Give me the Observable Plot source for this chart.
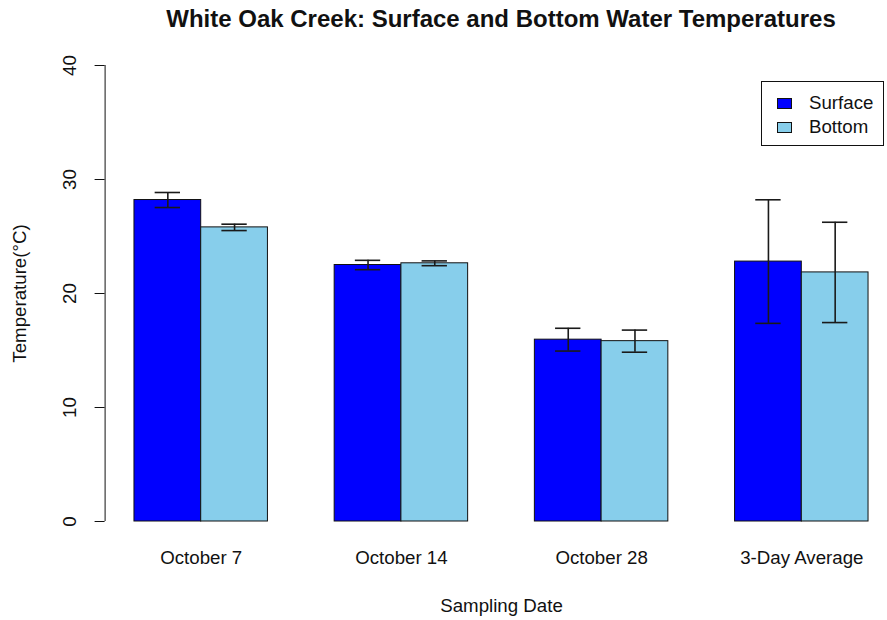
<!DOCTYPE html>
<html>
<head>
<meta charset="utf-8">
<script src="https://cdn.jsdelivr.net/npm/d3@7"></script>
<script src="https://cdn.jsdelivr.net/npm/@observablehq/plot@0.6"></script>
<style>
  body { margin: 0; background: #fff; }
  #wrap { position: relative; width: 887px; height: 620px; font-family: "Liberation Sans", Arial, sans-serif; color: #111; }
  #title { height: 38px; line-height: 38px; font-weight: bold; font-size: 24px; text-align: center; width: 792px; margin-left: 105px; white-space: nowrap; }
  #legend { position: absolute; left: 761px; top: 81px; width: 123px; height: 65px; border: 1px solid #111; background: #fff; box-sizing: border-box; font-size: 18.7px; }
  .row { position: absolute; left: 15px; display: flex; align-items: center; }
  .sw { width: 15px; height: 11px; border: 1px solid #111; box-sizing: border-box; margin-right: 17px; }
</style>
</head>
<body>
<div id="wrap">
  <div id="title">White Oak Creek: Surface and Bottom Water Temperatures</div>
  <div id="chart"></div>
  <div id="legend"></div>
</div>
<script>
// Sampling dates and the two measurement depths
const dates = ["October 7", "October 14", "October 28", "3-Day Average"];
const seriesNames = ["Surface", "Bottom"];
const seriesColors = ["#0000FF", "#87CEEB"];

// Mean temperature (°C) and standard deviation per date
const surfaceMean = [28.2, 22.5, 15.95, 22.8];
const surfaceSD = [0.66, 0.41, 1.0, 5.42];
const bottomMean = [25.8, 22.65, 15.82, 21.85];
const bottomSD = [0.28, 0.21, 0.97, 4.4];

const yTicks = [0, 10, 20, 30, 40];

// Barplot layout: each group is two bar widths, separated by one bar width
const rows = dates.flatMap((date, i) => seriesNames.map((series, j) => ({
  date,
  series,
  slot: 3 * i + j + 1,
  mean: j === 0 ? surfaceMean[i] : bottomMean[i],
  sd: j === 0 ? surfaceSD[i] : bottomSD[i]
})));

const xMin = 0.56, xMax = 12.44;
const capHalf = 0.19;
const fs = 18.7;

const chart = Plot.plot({
  width: 887,
  height: 582,
  marginLeft: 104.6,
  marginTop: 27,
  marginBottom: 99,
  marginRight: 0,
  style: { fontFamily: "Liberation Sans, Arial, sans-serif", color: "#111", background: "#fff", overflow: "visible" },
  x: { domain: [xMin, xMax], range: [104.6, 897.4], axis: null },
  y: { domain: [0, 40], range: [483, 27], axis: null },
  color: { domain: seriesNames, range: seriesColors },
  marks: [
    Plot.rectY(rows, { x1: "slot", x2: d => d.slot + 1, y1: 0, y2: "mean", fill: "series", stroke: "#111", strokeWidth: 1 }),
    // error bars
    Plot.ruleX(rows, { x: d => d.slot + 0.5, y1: d => d.mean - d.sd, y2: d => d.mean + d.sd, stroke: "#1a1a1a", strokeWidth: 1.6 }),
    Plot.ruleY(rows, { y: d => d.mean + d.sd, x1: d => d.slot + 0.5 - capHalf, x2: d => d.slot + 0.5 + capHalf, stroke: "#1a1a1a", strokeWidth: 1.6 }),
    Plot.ruleY(rows, { y: d => d.mean - d.sd, x1: d => d.slot + 0.5 - capHalf, x2: d => d.slot + 0.5 + capHalf, stroke: "#1a1a1a", strokeWidth: 1.6 }),
    // y axis
    Plot.ruleX([xMin], { y1: 0, y2: 40, stroke: "#111", strokeWidth: 1 }),
    Plot.axisY({ ticks: yTicks, tickSize: 10, tickFormat: () => "", label: null, stroke: "#111" }),
    Plot.text(yTicks, { x: xMin, y: d => d, text: d => String(d), dx: -35, rotate: -90, fontSize: fs, textAnchor: "middle", lineAnchor: "middle", fill: "#111" }),
    Plot.text(["Temperature(°C)"], { x: xMin, y: 20, dx: -84.6, rotate: -90, fontSize: fs, textAnchor: "middle", lineAnchor: "middle", fill: "#111" }),
    // x labels
    Plot.text(dates, { x: (d, i) => 3 * i + 2, y: 0, dy: 37, fontSize: fs, textAnchor: "middle", lineAnchor: "middle", fill: "#111" }),
    Plot.text(["Sampling Date"], { x: (xMin + xMax) / 2, y: 0, dy: 85, fontSize: fs, textAnchor: "middle", lineAnchor: "middle", fill: "#111" })
  ]
});
document.getElementById("chart").appendChild(chart);

// legend
const legend = d3.select("#legend");
seriesNames.forEach((name, i) => {
  const row = legend.append("div").attr("class", "row").style("top", (10 + i * 24) + "px");
  row.append("div").attr("class", "sw").style("background", seriesColors[i]);
  row.append("span").text(name);
});
</script>
</body>
</html>
